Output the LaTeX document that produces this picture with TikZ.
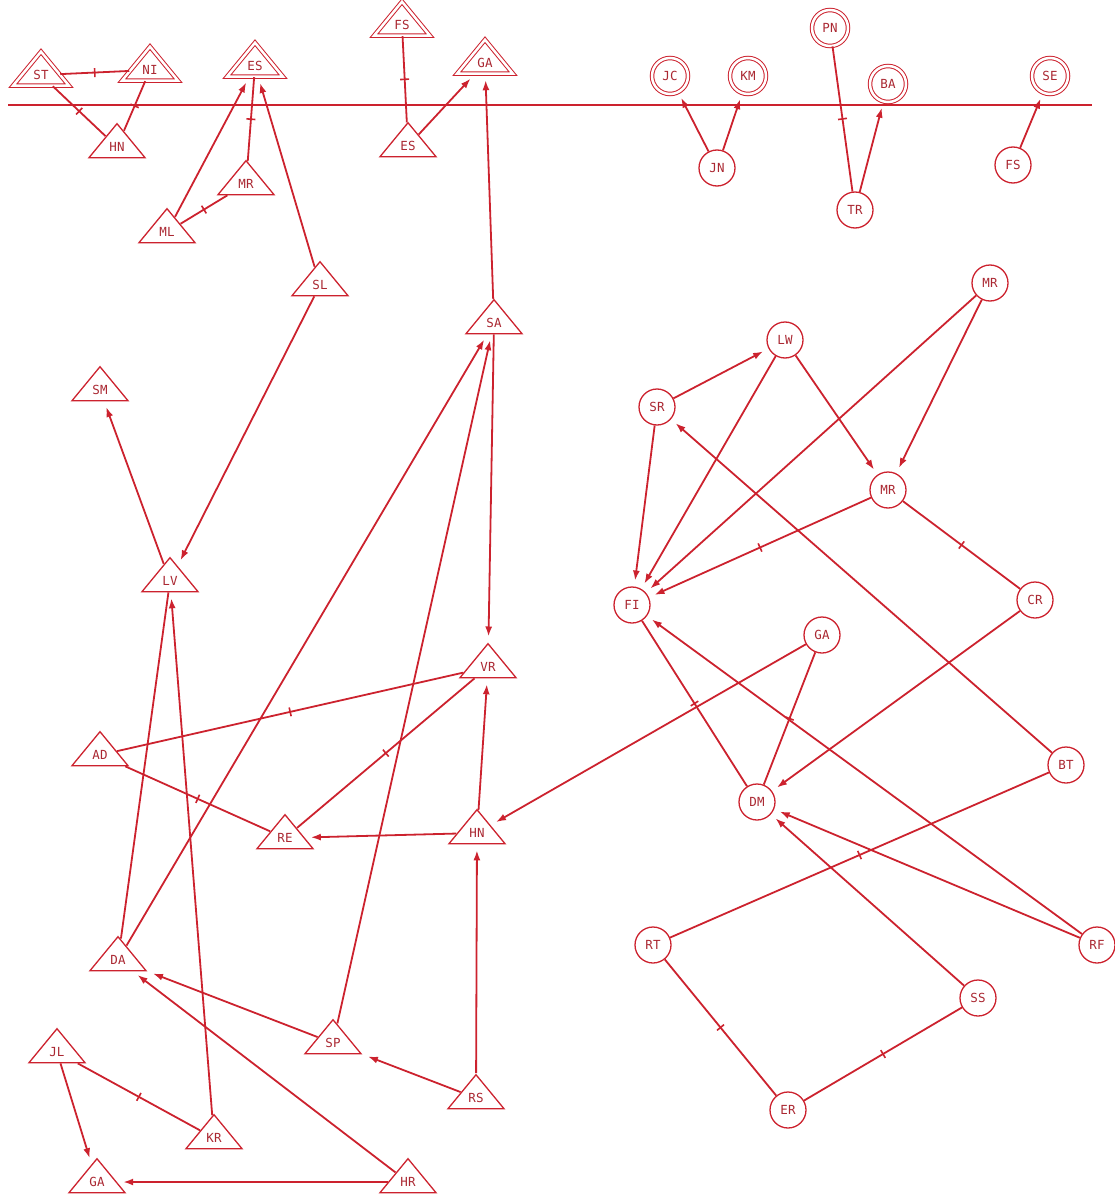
\documentclass[tikz,border=0pt]{standalone}
\usepackage{fontspec}
\setmonofont{DejaVu Sans Mono}
\usepackage{xcolor}
\definecolor{kinred}{RGB}{204, 34, 46}
\definecolor{kintext}{RGB}{170, 40, 50}
\usetikzlibrary{shapes.geometric, arrows.meta, calc}

\begin{document}
\begin{tikzpicture}[x=1pt, y=-1pt,
        male/.style={isosceles triangle, isosceles triangle stretches, shape border rotate=90, draw=kinred, line width=1.3pt, minimum width=56pt, minimum height=34pt, inner sep=0pt, font=\ttfamily\fontsize{12.5}{12.5}\selectfont, text=kintext},
        female/.style={circle, draw=kinred, line width=1.3pt, minimum size=36pt, inner sep=0pt, font=\ttfamily\fontsize{12.5}{12.5}\selectfont, text=kintext},
        elder/.style={double=white, double distance=2.5pt, line width=1pt},
        line/.style={draw=kinred, line width=1.8pt},
        arrow/.style={draw=kinred, line width=1.8pt, -{Latex[length=10pt, width=7pt]}, shorten >=6pt},
        tick/.style={midway, sloped, draw=kinred, line width=1.6pt, inner sep=0pt, minimum width=0pt, minimum height=9pt}]

    \useasboundingbox (0,0) rectangle (1115,1201);

    % generation line
    \coordinate (gl) at (8,105);
    \coordinate (gr) at (1092,105);
    \draw [line, line width=2pt] (gl) -- (gr);

    % top row
    \node [male, elder] (ST) at (41,75) {ST};
    \node [male, elder] (NI) at (150,70) {NI};
    \node [male, elder] (EST) at (255,66) {ES};
    \node [male, elder] (FST) at (402,25) {FS};
    \node [male, elder] (GAT) at (485,63) {GA};
    \node [male] (HNT) at (117,147) {HN};
    \node [male] (ESL) at (408,146) {ES};
    \node [male] (MRT) at (246,184) {MR};
    \node [male] (ML) at (167,232) {ML};

    \node [female, elder] (JC) at (670,76) {JC};
    \node [female, elder] (KM) at (748,76) {KM};
    \node [female, elder] (PN) at (830,28) {PN};
    \node [female, elder] (BA) at (888,84) {BA};
    \node [female, elder] (SE) at (1050,76) {SE};
    \node [female] (JN) at (717,168) {JN};
    \node [female] (TR) at (855,210) {TR};
    \node [female] (FSR) at (1013,165) {FS};

    % left group
    \node [male] (SL) at (320,285) {SL};
    \node [male] (SA) at (494,323) {SA};
    \node [male] (SM) at (100,390) {SM};
    \node [male] (LV) at (170,581) {LV};
    \node [male] (VR) at (488,667) {VR};
    \node [male] (AD) at (100,755) {AD};
    \node [male] (RE) at (285,838) {RE};
    \node [male] (HNM) at (477,833) {HN};
    \node [male] (DA) at (118,960) {DA};
    \node [male] (SP) at (333,1043) {SP};
    \node [male] (JL) at (57,1052) {JL};
    \node [male] (RS) at (476,1098) {RS};
    \node [male] (KR) at (214,1138) {KR};
    \node [male] (GAB) at (97,1182) {GA};
    \node [male] (HR) at (408,1182) {HR};

    % right group
    \node [female] (MRR) at (990,283) {MR};
    \node [female] (LW) at (785,340) {LW};
    \node [female] (SR) at (657,407) {SR};
    \node [female] (MRM) at (888,490) {MR};
    \node [female] (CR) at (1035,600) {CR};
    \node [female] (FI) at (632,605) {FI};
    \node [female] (GAC) at (822,635) {GA};
    \node [female] (BT) at (1066,765) {BT};
    \node [female] (DM) at (757,802) {DM};
    \node [female] (RT) at (653,945) {RT};
    \node [female] (RF) at (1097,945) {RF};
    \node [female] (SS) at (978,998) {SS};
    \node [female] (ER) at (788,1110) {ER};

    % top links
    \path [line] (ST) -- node [tick] {} (NI);
    \path [line] (ST) -- node [tick] {} (HNT);
    \path [line] (NI) -- node [tick] {} (HNT);
    \path [line] (EST) -- node [tick] {} (MRT);
    \path [line] (MRT) -- node [tick] {} (ML);
    \path [line] (FST) -- node [tick] {} (ESL);
    \path [line] (PN) -- node [tick] {} (TR);
    \path [arrow] (ML) -- (EST);
    \path [arrow] (SL) -- (EST);
    \path [arrow] (ESL) -- (GAT);
    \path [arrow] (SA) -- (GAT);
    \path [arrow] (JN) -- (JC);
    \path [arrow] (JN) -- (KM);
    \path [arrow] (TR) -- (BA);
    \path [arrow] (FSR) -- (SE);

    % left links
    \path [arrow] (SL) -- (LV);
    \path [arrow] (LV) -- (SM);
    \path [arrow] (SA) -- (VR);
    \path [arrow] (DA) -- (SA);
    \path [arrow] (SP) -- (SA);
    \path [line] (DA) -- (LV);
    \path [arrow] (KR) -- (LV);
    \path [line] (AD) -- node [tick] {} (VR);
    \path [line] (AD) -- node [tick] {} (RE);
    \path [line] (RE) -- node [tick] {} (VR);
    \path [arrow] (HNM) -- (RE);
    \path [arrow] (HNM) -- (VR);
    \path [arrow] (RS) -- (HNM);
    \path [arrow] (RS) -- (SP);
    \path [arrow] (SP) -- (DA);
    \path [arrow] (HR) -- (DA);
    \path [line] (JL) -- node [tick] {} (KR);
    \path [arrow] (JL) -- (GAB);
    \path [arrow] (HR) -- (GAB);
    \path [arrow] (GAC) -- (HNM);

    % right links
    \path [arrow] (SR) -- (LW);
    \path [arrow] (SR) -- (FI);
    \path [arrow] (LW) -- (FI);
    \path [arrow] (LW) -- (MRM);
    \path [arrow] (MRR) -- (FI);
    \path [arrow] (MRR) -- (MRM);
    \path [arrow] (MRM) -- node [tick] {} (FI);
    \path [line] (MRM) -- node [tick] {} (CR);
    \path [arrow] (CR) -- (DM);
    \path [arrow] (BT) -- (SR);
    \path [line] (FI) -- node [tick] {} (DM);
    \path [line] (GAC) -- node [tick] {} (DM);
    \path [arrow] (RF) -- (FI);
    \path [arrow] (RF) -- (DM);
    \path [line] (BT) -- node [tick] {} (RT);
    \path [arrow] (SS) -- (DM);
    \path [line] (RT) -- node [tick] {} (ER);
    \path [line] (ER) -- node [tick] {} (SS);
\end{tikzpicture}
\end{document}
